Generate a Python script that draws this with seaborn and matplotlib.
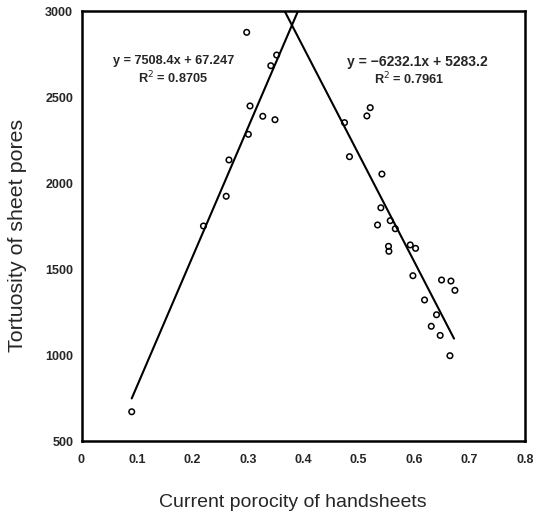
import numpy as np
import pandas as pd
import matplotlib
matplotlib.use("Agg")
import matplotlib.pyplot as plt
import seaborn as sns

# Data
left_x = [0.0906, 0.220, 0.261, 0.266, 0.298, 0.301, 0.304, 0.327, 0.3415, 0.349, 0.352]
left_y = [670, 1750, 1923, 2134, 2876, 2283, 2448, 2388, 2682, 2368, 2744]

right_x = [0.4744, 0.4834, 0.5148, 0.5208, 0.5419, 0.540, 0.534, 0.5569, 0.566, 0.5538,
           0.5545, 0.593, 0.6026, 0.5978, 0.6495, 0.6664, 0.6736, 0.6188, 0.6404, 0.6309,
           0.6470, 0.6646]
right_y = [2351, 2153, 2390, 2438, 2052, 1856, 1756, 1781, 1734, 1632,
           1603, 1640, 1620, 1461, 1436, 1430, 1376, 1320, 1234, 1167,
           1114, 996]

# Trend lines (from the printed equations)
left_slope, left_icpt = 7508.4, 67.247
right_slope, right_icpt = -6232.1, 5283.2
left_line_x = [0.0906, 0.40]
right_line_x = [0.35, 0.672]

x_ticks = [0, 0.1, 0.2, 0.3, 0.4, 0.5, 0.6, 0.7, 0.8]
x_tick_labels = ["0", "0.1", "0.2", "0.3", "0.4", "0.5", "0.6", "0.7", "0.8"]
y_ticks = [500, 1000, 1500, 2000, 2500, 3000]

sns.set_style("white")
plt.rcParams['font.family'] = ['Liberation Sans', 'DejaVu Sans']

fig = plt.figure(figsize=(5.37, 5.15), dpi=100)
ax = fig.add_axes([81.5 / 537, 1 - 441 / 515, (525 - 81.5) / 537, (441 - 11) / 515])

pts = pd.DataFrame({"x": left_x + right_x, "y": left_y + right_y})
sns.scatterplot(data=pts, x="x", y="y", ax=ax, marker="o", s=16,
                facecolor="none", edgecolor="black", linewidth=1.1, legend=False)

lx = np.array(left_line_x)
rx = np.array(right_line_x)
lines = pd.DataFrame({
    "x": np.concatenate([lx, rx]),
    "y": np.concatenate([left_slope * lx + left_icpt, right_slope * rx + right_icpt]),
    "g": ["L", "L", "R", "R"],
})
sns.lineplot(data=lines, x="x", y="y", units="g", estimator=None, ax=ax,
             color="black", linewidth=1.5, legend=False)

ax.set_xlim(0, 0.8)
ax.set_ylim(500, 3000)
ax.set_xticks(x_ticks)
ax.set_xticklabels(x_tick_labels)
ax.set_yticks(y_ticks)
ax.tick_params(axis="both", direction="in", length=3, width=1.2, color="black",
               labelsize=9)
ax.tick_params(axis="x", pad=9.5)
ax.tick_params(axis="y", pad=6)
for lab in ax.get_xticklabels() + ax.get_yticklabels():
    lab.set_fontweight("bold")
for sp in ax.spines.values():
    sp.set_linewidth(1.8)
    sp.set_color("black")

ax.set_xlabel("Current porocity of handsheets", fontsize=14)
ax.set_ylabel("Tortuosity of sheet pores", fontsize=15.4)
ax.xaxis.set_label_coords(0.476, -0.124)
ax.yaxis.set_label_coords(-0.122, 0.478)

ax.text(0.166, 2709, "y = 7508.4x + 67.247", ha="center", va="center",
        fontsize=9.2, fontweight="bold")
ax.text(0.166, 2610, "R$^2$ = 0.8705", ha="center", va="center",
        fontsize=9.2, fontweight="bold")
ax.text(0.479, 2702, "y = \u22126232.1x + 5283.2", ha="left", va="center",
        fontsize=10, fontweight="bold")
ax.text(0.527, 2603, "R$^2$ = 0.7961", ha="left", va="center",
        fontsize=9.2, fontweight="bold")

fig.savefig("out.png", dpi=100, facecolor="white")
